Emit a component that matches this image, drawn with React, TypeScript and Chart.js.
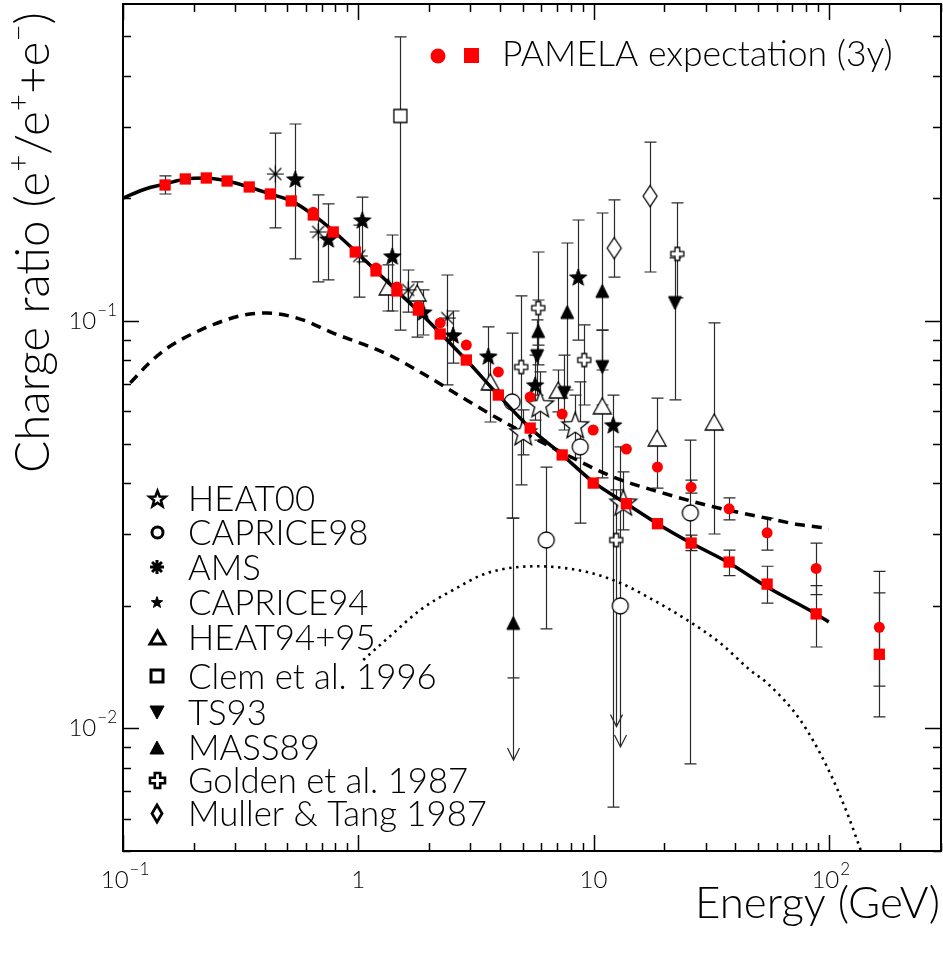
import { useEffect, useRef } from "react";
import { Chart, registerables } from "chart.js";
import type { Plugin } from "chart.js";

Chart.register(...registerables);

const FONT = "Lato, 'DejaVu Sans', Arial, sans-serif";
const W = 943;
const H = 953;

// axes
const X_MIN = 0.1;
const X_MAX = 300;
const Y_MIN = 0.005;
const Y_MAX = 0.6;
const X_MAJOR = [0.1, 1, 10, 100];
const X_LABELS: [string, string][] = [["10", "\u22121"], ["1", ""], ["10", ""], ["10", "2"]];
const Y_MAJOR = [0.01, 0.1];
const Y_LABELS: [string, string][] = [["10", "\u22122"], ["10", "\u22121"]];

// PAMELA expectation (3y)
const PAM_SQ_E = [0.151, 0.184, 0.226, 0.277, 0.344, 0.423, 0.519, 0.644, 0.783, 0.971, 1.19, 1.46, 1.8, 2.23, 2.88, 3.94, 5.38, 7.36, 9.97, 13.8, 18.7, 26.0, 37.7, 54.7, 88.4, 164];
const PAM_SQ_R = [0.2157, 0.2232, 0.2244, 0.2206, 0.2133, 0.205, 0.1971, 0.1821, 0.1654, 0.1477, 0.1327, 0.1185, 0.1064, 0.0929, 0.0802, 0.0658, 0.0546, 0.0469, 0.04, 0.0356, 0.0318, 0.0285, 0.0256, 0.0226, 0.0191, 0.0152];
const PAM_SQ_HI = [0.227, null, null, null, null, null, null, null, null, null, null, null, null, null, null, null, null, null, null, null, null, 0.0298, 0.0274, 0.025, 0.0224, 0.0215];
const PAM_SQ_LO = [0.205, null, null, null, null, null, null, null, null, null, null, null, null, null, null, null, null, null, null, null, null, 0.0273, 0.0237, 0.0203, 0.01584, 0.01067];

const PAM_CI_E = [0.644, 1.19, 1.46, 1.8, 2.23, 2.88, 3.94, 5.38, 7.36, 9.97, 13.8, 18.7, 26.0, 37.7, 54.7, 88.4, 164];
const PAM_CI_R = [0.185, 0.1349, 0.1212, 0.1088, 0.0989, 0.0873, 0.075, 0.0651, 0.0591, 0.054, 0.0485, 0.0438, 0.0391, 0.0346, 0.0302, 0.0247, 0.0177];
const PAM_CI_HI = [null, null, null, null, null, null, null, null, null, null, null, null, 0.0407, 0.0368, 0.0328, 0.0285, 0.0243];
const PAM_CI_LO = [null, null, null, null, null, null, null, null, null, null, null, null, 0.0378, 0.0325, 0.0274, 0.0213, 0.0127];

// measurements
const HEAT00_E = [5.03, 5.94, 8.36, 13.38];
const HEAT00_R = [0.0534, 0.0626, 0.0556, 0.0359];
const HEAT00_HI = [0.0605, 0.075, 0.0658, 0.0426];
const HEAT00_LO = [0.0469, 0.051, 0.0461, 0.0307];

const CAPRICE98_E = [4.51, 6.3, 8.78, 13.0, 25.8];
const CAPRICE98_R = [0.0633, 0.029, 0.0491, 0.01998, 0.0338];
const CAPRICE98_HI = [0.0934, 0.0438, 0.0709, 0.0491, 0.051];
const CAPRICE98_LO = [0.0328, 0.01754, 0.0319, null, 0.00818];
const CAPRICE98_ARROW = [null, null, null, 0.009, null];

const AMS_E = [0.444, 0.676, 1.01, 1.63, 2.39];
const AMS_R = [0.2295, 0.1654, 0.1444, 0.1192, 0.1017];
const AMS_HI = [0.2893, 0.2039, 0.172, 0.1334, 0.1297];
const AMS_LO = [0.1692, 0.1247, 0.1145, 0.1052, 0.0697];

const CAPRICE94_E = [0.54, 0.746, 1.04, 1.395, 1.89, 2.53, 3.57, 5.65, 8.61, 12.13];
const CAPRICE94_R = [0.2232, 0.159, 0.177, 0.1444, 0.1052, 0.0924, 0.082, 0.0697, 0.1282, 0.0556];
const CAPRICE94_HI = [0.3045, 0.1938, 0.2015, 0.1626, 0.1192, 0.1058, 0.0967, 0.0825, 0.177, 0.0658];
const CAPRICE94_LO = [0.142, 0.1261, 0.1396, 0.1058, 0.0924, 0.0788, 0.0677, 0.0571, 0.0898, 0.00641];

const HEAT9495_E = [1.34, 1.78, 3.64, 7.08, 10.9, 18.65, 32.6];
const HEAT9495_R = [0.1212, 0.1171, 0.0709, 0.0677, 0.0619, 0.0516, 0.0565];
const HEAT9495_HI = [0.1373, 0.1247, 0.0825, 0.0758, 0.095, 0.0647, 0.0989];
const HEAT9495_LO = [0.1058, 0.0913, 0.0565, 0.0598, 0.0412, 0.0389, 0.03];

const CLEM_E = [1.51];
const CLEM_R = [0.3186];
const CLEM_HI = [0.498];
const CLEM_LO = [0.095];

const TS93_E = [5.76, 7.51, 10.9, 22.2];
const TS93_R = [0.082, 0.0666, 0.0771, 0.1107];
const TS93_HI = [0.1006, 0.0825, 0.095, 0.1428];
const TS93_LO = [0.0658, 0.054, 0.0622, 0.064];

const MASS89_E = [4.56, 5.82, 7.73, 10.9];
const MASS89_R = [0.01815, 0.0945, 0.1052, 0.1185];
const MASS89_HI = [0.0328, 0.1126, 0.1554, 0.1841];
const MASS89_LO = [0.0133, 0.078, 0.0677, 0.0758];
const MASS89_ARROW = [0.00836, null, null, null];

const GOLDEN_E = [4.93, 5.82, 9.13, 12.49, 22.7];
const GOLDEN_R = [0.0771, 0.1076, 0.0802, 0.029, 0.1461];
const GOLDEN_HI = [0.1152, 0.1477, 0.0978, 0.0385, 0.1949];
const GOLDEN_LO = [0.0396, 0.0873, 0.0622, null, 0.1139];
const GOLDEN_ARROW = [null, null, null, 0.0101, null];

const MULLER_E = [12.25, 17.4];
const MULLER_R = [0.151, 0.2026];
const MULLER_HI = [0.1982, 0.275];
const MULLER_LO = [0.1282, 0.1319];

// model curves
const SOLID_E = [0.1, 0.1244, 0.151, 0.184, 0.226, 0.277, 0.344, 0.423, 0.519, 0.644, 0.783, 0.971, 1.19, 1.46, 1.8, 2.23, 2.88, 3.94, 5.38, 7.36, 10.0, 13.8, 18.7, 26.0, 37.7, 54.7, 88.4, 100];
const SOLID_R = [0.2003, 0.2109, 0.2169, 0.2232, 0.2244, 0.2206, 0.2133, 0.205, 0.1971, 0.1821, 0.1663, 0.1485, 0.1327, 0.1185, 0.1058, 0.0934, 0.0802, 0.0658, 0.0546, 0.0469, 0.0402, 0.0356, 0.0318, 0.0285, 0.02547, 0.02224, 0.0191, 0.01825];
const DASHED_E = [0.1074, 0.1306, 0.1543, 0.2131, 0.3245, 0.4106, 0.567, 0.783, 1.158, 1.408, 2.02, 2.79, 4.56, 7.43, 12.13, 19.78, 32.3, 54.7, 75.6, 100];
const DASHED_R = [0.0705, 0.0793, 0.0858, 0.095, 0.1034, 0.1046, 0.1011, 0.0934, 0.0858, 0.0816, 0.0725, 0.0647, 0.0549, 0.0474, 0.0414, 0.0378, 0.035, 0.0328, 0.0316, 0.031];
const DOTTED_E = [1.05, 1.368, 1.835, 2.53, 3.53, 5.76, 9.4, 13.0, 17.93, 25.0, 34.55, 46.3, 54.7, 75.6, 98.4, 119.7, 138];
const DOTTED_R = [0.01472, 0.01686, 0.01953, 0.02186, 0.02406, 0.025, 0.0242, 0.02275, 0.02066, 0.01845, 0.0162, 0.0139, 0.01292, 0.01049, 0.00804, 0.0062, 0.00495];

const LEGEND_LABELS = ["HEAT00", "CAPRICE98", "AMS", "CAPRICE94", "HEAT94+95", "Clem et al. 1996", "TS93", "MASS89", "Golden et al. 1987", "Muller & Tang 1987"];
const LEGEND_ROWS = [498, 532, 567, 602, 637, 676, 712, 747, 780, 813];

type V = number | null;
type ErrSet = { e: number[]; r: number[]; hi: V[]; lo: V[]; arrow?: V[] };

const ERR_SETS: ErrSet[] = [
  { e: HEAT00_E, r: HEAT00_R, hi: HEAT00_HI, lo: HEAT00_LO },
  { e: CAPRICE98_E, r: CAPRICE98_R, hi: CAPRICE98_HI, lo: CAPRICE98_LO, arrow: CAPRICE98_ARROW },
  { e: AMS_E, r: AMS_R, hi: AMS_HI, lo: AMS_LO },
  { e: CAPRICE94_E, r: CAPRICE94_R, hi: CAPRICE94_HI, lo: CAPRICE94_LO },
  { e: HEAT9495_E, r: HEAT9495_R, hi: HEAT9495_HI, lo: HEAT9495_LO },
  { e: CLEM_E, r: CLEM_R, hi: CLEM_HI, lo: CLEM_LO },
  { e: TS93_E, r: TS93_R, hi: TS93_HI, lo: TS93_LO },
  { e: MASS89_E, r: MASS89_R, hi: MASS89_HI, lo: MASS89_LO, arrow: MASS89_ARROW },
  { e: GOLDEN_E, r: GOLDEN_R, hi: GOLDEN_HI, lo: GOLDEN_LO, arrow: GOLDEN_ARROW },
  { e: MULLER_E, r: MULLER_R, hi: MULLER_HI, lo: MULLER_LO },
  { e: PAM_SQ_E, r: PAM_SQ_R, hi: PAM_SQ_HI, lo: PAM_SQ_LO },
  { e: PAM_CI_E, r: PAM_CI_R, hi: PAM_CI_HI, lo: PAM_CI_LO },
];

type Shape = "star" | "circle" | "asterisk" | "triUp" | "triDown" | "square" | "cross" | "diamond";

function makeMarker(shape: Shape, w: number, h: number, filled: boolean, lw: number, color = "#000"): HTMLCanvasElement {
  const pad = Math.ceil(lw) + 2;
  const c = document.createElement("canvas");
  c.width = Math.ceil(w + pad * 2);
  c.height = Math.ceil(h + pad * 2);
  const ctx = c.getContext("2d")!;
  ctx.translate(c.width / 2, c.height / 2);
  ctx.lineWidth = lw;
  ctx.strokeStyle = color;
  ctx.fillStyle = filled ? color : "#fff";
  ctx.lineJoin = "miter";
  ctx.beginPath();
  const rx = w / 2;
  const ry = h / 2;
  if (shape === "star") {
    const inner = rx * 0.42;
    for (let i = 0; i < 10; i++) {
      const a = -Math.PI / 2 + (i * Math.PI) / 5;
      const rr = i % 2 === 0 ? rx : inner;
      const px = Math.cos(a) * rr;
      const py = Math.sin(a) * rr + rx * 0.1;
      if (i === 0) ctx.moveTo(px, py);
      else ctx.lineTo(px, py);
    }
    ctx.closePath();
  } else if (shape === "circle") {
    ctx.arc(0, 0, rx, 0, Math.PI * 2);
  } else if (shape === "asterisk") {
    for (let i = 0; i < 4; i++) {
      const a = (i * Math.PI) / 4;
      ctx.moveTo(Math.cos(a) * rx, Math.sin(a) * rx);
      ctx.lineTo(-Math.cos(a) * rx, -Math.sin(a) * rx);
    }
    ctx.stroke();
    return c;
  } else if (shape === "triUp") {
    ctx.moveTo(0, -ry);
    ctx.lineTo(rx, ry);
    ctx.lineTo(-rx, ry);
    ctx.closePath();
  } else if (shape === "triDown") {
    ctx.moveTo(0, ry);
    ctx.lineTo(rx, -ry);
    ctx.lineTo(-rx, -ry);
    ctx.closePath();
  } else if (shape === "square") {
    ctx.rect(-rx, -ry, w, h);
  } else if (shape === "cross") {
    const a = rx * 0.36;
    const L = rx;
    const p = [[-a, -L], [a, -L], [a, -a], [L, -a], [L, a], [a, a], [a, L], [-a, L], [-a, a], [-L, a], [-L, -a], [-a, -a]];
    p.forEach(([x, y], i) => (i === 0 ? ctx.moveTo(x, y) : ctx.lineTo(x, y)));
    ctx.closePath();
  } else if (shape === "diamond") {
    ctx.moveTo(0, -ry);
    ctx.lineTo(rx, 0);
    ctx.lineTo(0, ry);
    ctx.lineTo(-rx, 0);
    ctx.closePath();
  }
  ctx.fill();
  ctx.stroke();
  return c;
}

const pts = (e: number[], r: number[]) => e.map((x, i) => ({ x, y: r[i] }));

function drawRich(ctx: CanvasRenderingContext2D, segs: [string, boolean][], x: number, y: number, size: number) {
  let cx = x;
  for (const [t, sup] of segs) {
    const s = sup ? size * 0.62 : size;
    ctx.font = `300 ${s}px ${FONT}`;
    ctx.fillText(t, cx, sup ? y - size * 0.42 : y);
    cx += ctx.measureText(t).width;
  }
}

function richWidth(ctx: CanvasRenderingContext2D, segs: [string, boolean][], size: number) {
  let w = 0;
  for (const [t, sup] of segs) {
    ctx.font = `300 ${sup ? size * 0.62 : size}px ${FONT}`;
    w += ctx.measureText(t).width;
  }
  return w;
}

function fitSize(ctx: CanvasRenderingContext2D, text: string, target: number) {
  ctx.font = `300 100px ${FONT}`;
  return (100 * target) / ctx.measureText(text).width;
}

function drawPow(ctx: CanvasRenderingContext2D, x: number, y: number, base: string, exp: string, align: "center" | "right") {
  ctx.font = `300 24px ${FONT}`;
  const wb = ctx.measureText(base).width;
  ctx.font = `300 17px ${FONT}`;
  const we = exp ? ctx.measureText(exp).width + 1 : 0;
  const total = wb + we;
  const left = align === "center" ? x - total / 2 : x - total;
  ctx.textAlign = "left";
  ctx.textBaseline = "alphabetic";
  ctx.font = `300 24px ${FONT}`;
  ctx.fillText(base, left, y);
  if (exp) {
    ctx.font = `300 17px ${FONT}`;
    ctx.fillText(exp, left + wb + 1, y - 13);
  }
}

const errorBars: Plugin<"scatter"> = {
  id: "errorBars",
  beforeDatasetsDraw(chart) {
    const { ctx, chartArea: a } = chart;
    const xs = chart.scales.x;
    const ys = chart.scales.y;
    ctx.save();
    ctx.beginPath();
    ctx.rect(a.left, a.top, a.right - a.left, a.bottom - a.top);
    ctx.clip();
    ctx.strokeStyle = "#2a2a2a";
    ctx.lineWidth = 1.2;
    const cap = 6;
    for (const s of ERR_SETS) {
      s.e.forEach((e, i) => {
        const hi = s.hi[i];
        const lo = s.lo[i];
        const ar = s.arrow ? s.arrow[i] : null;
        if (hi == null && lo == null && ar == null) return;
        const px = Math.round(xs.getPixelForValue(e)) + 0.5;
        const yc = ys.getPixelForValue(s.r[i]);
        const yt = hi != null ? ys.getPixelForValue(hi) : yc;
        const yb = ar != null ? ys.getPixelForValue(ar) : lo != null ? ys.getPixelForValue(lo) : yc;
        ctx.beginPath();
        ctx.moveTo(px, yt);
        ctx.lineTo(px, yb);
        if (hi != null) {
          ctx.moveTo(px - cap, yt);
          ctx.lineTo(px + cap, yt);
        }
        if (lo != null) {
          const yl = ys.getPixelForValue(lo);
          ctx.moveTo(px - cap, yl);
          ctx.lineTo(px + cap, yl);
        }
        if (ar != null) {
          ctx.moveTo(px - 6, yb - 12);
          ctx.lineTo(px, yb);
          ctx.lineTo(px + 6, yb - 12);
        }
        ctx.stroke();
      });
    }
    ctx.restore();
  },
};

export default function App() {
  const canvasRef = useRef<HTMLCanvasElement | null>(null);

  useEffect(() => {
    if (!canvasRef.current) return;

    const mk = {
      heat00: makeMarker("star", 28, 28, false, 1.3),
      caprice98: makeMarker("circle", 16, 16, false, 1.3),
      ams: makeMarker("asterisk", 17, 17, false, 1.1),
      caprice94: makeMarker("star", 18, 18, true, 1),
      heat9495: makeMarker("triUp", 18, 16, false, 1.3),
      clem: makeMarker("square", 13, 13, false, 1.3),
      ts93: makeMarker("triDown", 13, 13, true, 1),
      mass89: makeMarker("triUp", 13, 13, true, 1),
      golden: makeMarker("cross", 13, 13, false, 1.3),
      muller: makeMarker("diamond", 14, 21, false, 1.3),
    };
    const lg = [
      makeMarker("star", 17, 17, false, 2.6),
      makeMarker("circle", 11, 11, false, 3),
      makeMarker("asterisk", 14, 14, false, 3),
      makeMarker("star", 12, 12, true, 1),
      makeMarker("triUp", 15, 13, false, 3),
      makeMarker("square", 12, 12, false, 3),
      makeMarker("triDown", 14, 13, true, 1),
      makeMarker("triUp", 14, 13, true, 1),
      makeMarker("cross", 15, 15, false, 2.6),
      makeMarker("diamond", 10, 17, false, 2.8),
    ];

    const frame: Plugin<"scatter"> = {
      id: "frame",
      afterDraw(chart) {
        const { ctx, chartArea: a } = chart;
        const xs = chart.scales.x;
        const ys = chart.scales.y;
        ctx.save();
        ctx.strokeStyle = "#000";
        ctx.fillStyle = "#000";
        // ticks
        ctx.lineWidth = 1.5;
        ctx.beginPath();
        for (let d = -1; d <= 2; d++) {
          for (let m = 1; m <= 9; m++) {
            const v = m * Math.pow(10, d);
            if (v < X_MIN || v > X_MAX) continue;
            const px = Math.round(xs.getPixelForValue(v)) + 0.5;
            const len = m === 1 ? 16 : 8;
            ctx.moveTo(px, a.bottom);
            ctx.lineTo(px, a.bottom - len);
            ctx.moveTo(px, a.top);
            ctx.lineTo(px, a.top + len);
          }
        }
        for (let d = -3; d <= -1; d++) {
          for (let m = 1; m <= 9; m++) {
            const v = m * Math.pow(10, d);
            if (v < Y_MIN || v > Y_MAX) continue;
            const py = Math.round(ys.getPixelForValue(v)) + 0.5;
            const len = m === 1 ? 16 : 8;
            ctx.moveTo(a.left, py);
            ctx.lineTo(a.left + len, py);
            ctx.moveTo(a.right, py);
            ctx.lineTo(a.right - len, py);
          }
        }
        ctx.stroke();
        ctx.lineWidth = 2;
        ctx.strokeRect(a.left, a.top, a.right - a.left, a.bottom - a.top);

        // tick labels
        X_MAJOR.forEach((v, i) => {
          const [b, e] = X_LABELS[i];
          drawPow(ctx, xs.getPixelForValue(v) + (e ? 2 : 0), a.bottom + 37, b, e, "center");
        });
        Y_MAJOR.forEach((v, i) => {
          const [b, e] = Y_LABELS[i];
          drawPow(ctx, a.left - 6, ys.getPixelForValue(v) + 8, b, e, "right");
        });

        // axis titles
        ctx.textAlign = "left";
        ctx.textBaseline = "alphabetic";
        const ySegs: [string, boolean][] = [["Charge ratio (e", false], ["+", true], ["/e", false], ["+", true], ["+e", false], ["\u2212", true], [")", false]];
        const s100 = richWidth(ctx, ySegs, 100);
        const ySize = (100 * 461) / s100;
        ctx.save();
        ctx.translate(49, 473);
        ctx.rotate(-Math.PI / 2);
        drawRich(ctx, ySegs, 0, 0, ySize);
        ctx.restore();

        const xt = "Energy (GeV)";
        const xSize = fitSize(ctx, xt, 245);
        ctx.font = `300 ${xSize}px ${FONT}`;
        ctx.textAlign = "right";
        ctx.fillText(xt, 940, 918);

        // PAMELA legend
        ctx.fillStyle = "#ff0000";
        ctx.beginPath();
        ctx.arc(438, 56, 7.5, 0, Math.PI * 2);
        ctx.fill();
        ctx.fillRect(464, 48, 15, 15);
        ctx.fillStyle = "#000";
        const pt = "PAMELA expectation (3y)";
        const pSize = fitSize(ctx, pt, 391);
        ctx.font = `300 ${pSize}px ${FONT}`;
        ctx.textAlign = "left";
        ctx.fillText(pt, 502, 66);

        // measurement legend
        const lSize = fitSize(ctx, "Muller & Tang 1987", 299);
        ctx.font = `300 ${lSize}px ${FONT}`;
        LEGEND_LABELS.forEach((t, i) => {
          const y = LEGEND_ROWS[i];
          const img = lg[i];
          ctx.drawImage(img, Math.round(157 - img.width / 2), Math.round(y - img.height / 2));
          ctx.fillText(t, 188, y + lSize * 0.36);
        });
        ctx.restore();
      },
    };

    const markerSet = (label: string, e: number[], r: number[], img: HTMLCanvasElement, order: number) => ({
      label,
      data: pts(e, r),
      pointStyle: img,
      pointRadius: 6,
      showLine: false,
      order,
    });

    const chart = new Chart(canvasRef.current, {
      type: "scatter",
      data: {
        datasets: [
          {
            label: "PAMELA circles",
            data: pts(PAM_CI_E, PAM_CI_R),
            pointStyle: "circle",
            pointRadius: 5.5,
            pointBorderWidth: 0,
            backgroundColor: "#ff0000",
            borderColor: "#ff0000",
            showLine: false,
            order: 1,
          },
          {
            label: "PAMELA squares",
            data: pts(PAM_SQ_E, PAM_SQ_R),
            pointStyle: "rect",
            pointRadius: 8,
            pointBorderWidth: 0,
            backgroundColor: "#ff0000",
            borderColor: "#ff0000",
            showLine: false,
            order: 0,
          },
          markerSet("HEAT00", HEAT00_E, HEAT00_R, mk.heat00, 5),
          markerSet("CAPRICE98", CAPRICE98_E, CAPRICE98_R, mk.caprice98, 5),
          markerSet("AMS", AMS_E, AMS_R, mk.ams, 5),
          markerSet("CAPRICE94", CAPRICE94_E, CAPRICE94_R, mk.caprice94, 4),
          markerSet("HEAT94+95", HEAT9495_E, HEAT9495_R, mk.heat9495, 5),
          markerSet("Clem et al. 1996", CLEM_E, CLEM_R, mk.clem, 5),
          markerSet("TS93", TS93_E, TS93_R, mk.ts93, 4),
          markerSet("MASS89", MASS89_E, MASS89_R, mk.mass89, 4),
          markerSet("Golden et al. 1987", GOLDEN_E, GOLDEN_R, mk.golden, 5),
          markerSet("Muller & Tang 1987", MULLER_E, MULLER_R, mk.muller, 5),
          {
            label: "solid",
            data: pts(SOLID_E, SOLID_R),
            showLine: true,
            pointRadius: 0,
            borderColor: "#000",
            borderWidth: 3.5,
            cubicInterpolationMode: "monotone",
            order: 3,
          },
          {
            label: "dashed",
            data: pts(DASHED_E, DASHED_R),
            showLine: true,
            pointRadius: 0,
            borderColor: "#000",
            borderWidth: 3.5,
            borderDash: [10, 7],
            cubicInterpolationMode: "monotone",
            order: 6,
          },
          {
            label: "dotted",
            data: pts(DOTTED_E, DOTTED_R),
            showLine: true,
            pointRadius: 0,
            borderColor: "#000",
            borderWidth: 2.6,
            borderDash: [2.4, 4.6],
            cubicInterpolationMode: "monotone",
            order: 6,
          },
        ],
      },
      options: {
        responsive: false,
        animation: false,
        events: [],
        layout: { autoPadding: false, padding: { left: 123, top: 4, right: 2, bottom: 102 } },
        plugins: { legend: { display: false }, tooltip: { enabled: false } },
        scales: {
          x: { type: "logarithmic", min: X_MIN, max: X_MAX, display: false },
          y: { type: "logarithmic", min: Y_MIN, max: Y_MAX, display: false },
        },
      },
      plugins: [errorBars, frame],
    });
    return () => chart.destroy();
  }, []);

  return (
    <div style={{ position: "absolute", left: 0, top: 0, width: W, height: H, background: "#fff" }}>
      <canvas ref={canvasRef} width={W} height={H} style={{ width: W, height: H, display: "block" }} />
    </div>
  );
}
